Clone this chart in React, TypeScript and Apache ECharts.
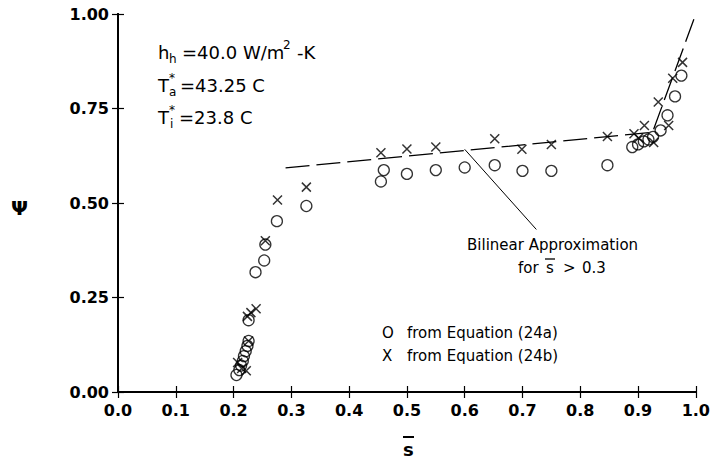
import React, { useEffect, useRef } from "react";
import * as echarts from "echarts";

// Circles: "from Equation (24a)"
const circleS = [0.205, 0.21, 0.213, 0.216, 0.218, 0.221, 0.224, 0.226, 0.226, 0.238, 0.253, 0.255, 0.275, 0.326, 0.455, 0.46, 0.5, 0.55, 0.6, 0.652, 0.7, 0.75, 0.847, 0.89, 0.9, 0.91, 0.918, 0.926, 0.939, 0.951, 0.964, 0.975];
const circleY = [0.045, 0.058, 0.07, 0.082, 0.095, 0.108, 0.122, 0.135, 0.19, 0.317, 0.348, 0.39, 0.452, 0.492, 0.557, 0.587, 0.577, 0.587, 0.594, 0.6, 0.585, 0.585, 0.6, 0.648, 0.655, 0.663, 0.668, 0.675, 0.692, 0.732, 0.782, 0.837];
// Crosses: "from Equation (24b)"
const crossS = [0.207, 0.214, 0.222, 0.226, 0.224, 0.23, 0.239, 0.255, 0.276, 0.326, 0.455, 0.5, 0.55, 0.652, 0.699, 0.75, 0.847, 0.893, 0.901, 0.911, 0.927, 0.935, 0.953, 0.96, 0.977];
const crossY = [0.078, 0.062, 0.056, 0.135, 0.2, 0.21, 0.22, 0.4, 0.508, 0.542, 0.633, 0.643, 0.648, 0.67, 0.642, 0.655, 0.676, 0.683, 0.672, 0.705, 0.66, 0.767, 0.705, 0.83, 0.872];
// Bilinear approximation (dashed)
const approxS = [0.29, 0.925, 1.0];
const approxY = [0.593, 0.687, 1.0];
// Leader line to annotation
const leaderS = [0.6, 0.724];
const leaderY = [0.642, 0.43];

const xTicks = { min: 0, max: 1, interval: 0.1 };
const yTicks = { min: 0, max: 1, interval: 0.25 };

const FONT = "DejaVu Sans";

const zip = (a: number[], b: number[]) => a.map((v, i) => [v, b[i]]);

export default function App() {
  const ref = useRef<HTMLDivElement>(null);
  useEffect(() => {
    if (!ref.current) return;
    const chart = echarts.init(ref.current, null, { renderer: "svg" });
    const axisLine = { show: true, lineStyle: { color: "#000", width: 2 } };
    const axisTick = { show: true, inside: true, length: 6, lineStyle: { color: "#000", width: 1.2 } };
    const txt = (text: string, x: number, y: number, size: number, extra: any = {}) => ({
      type: "text",
      x,
      y,
      style: { text, fontSize: size, fontFamily: FONT, fill: "#000", align: "left", verticalAlign: "middle", ...extra },
    });
    chart.setOption({
      animation: false,
      backgroundColor: "#fff",
      grid: { left: 118, right: 14, top: 14, bottom: 69 },
      xAxis: [
        {
          type: "value", ...xTicks, position: "bottom",
          axisLine, axisTick, splitLine: { show: false },
          axisLabel: { formatter: (v: number) => v.toFixed(1), fontSize: 16, fontWeight: "bold", fontFamily: FONT, color: "#000", margin: 10 },
        },
        {
          type: "value", ...xTicks, position: "top",
          axisLine, axisTick, splitLine: { show: false }, axisLabel: { show: false },
        },
      ],
      yAxis: [
        {
          type: "value", ...yTicks, position: "left",
          axisLine, axisTick, splitLine: { show: false },
          axisLabel: { formatter: (v: number) => v.toFixed(2), fontSize: 16, fontWeight: "bold", fontFamily: FONT, color: "#000", margin: 9 },
        },
        {
          type: "value", ...yTicks, position: "right",
          axisLine, axisTick, splitLine: { show: false }, axisLabel: { show: false },
        },
      ],
      series: [
        {
          type: "line", data: zip(approxS, approxY), symbol: "none",
          lineStyle: { color: "#000", width: 1.3, type: [24, 7] },
        },
        {
          type: "line", data: zip(leaderS, leaderY), symbol: "none",
          lineStyle: { color: "#000", width: 1 },
        },
        {
          type: "scatter", data: zip(circleS, circleY), symbol: "circle", symbolSize: 11,
          itemStyle: { color: "rgba(0,0,0,0)", borderColor: "#000", borderWidth: 1.3 },
        },
        {
          type: "scatter", data: zip(crossS, crossY), symbol: "path://M0 0L10 10M10 0L0 10", symbolSize: 9,
          itemStyle: { color: "rgba(0,0,0,0)", borderColor: "#000", borderWidth: 1.5 },
        },
      ],
      graphic: [
        // parameters block
        txt("h", 158, 52, 18),
        txt("h", 169, 59, 12),
        txt("=40.0 W/m", 182, 52, 18),
        txt("2", 283, 45, 12),
        txt("-K", 297, 52, 18),
        txt("T", 158, 85, 18),
        txt("*", 169, 78, 12),
        txt("a", 169, 92, 12),
        txt("=43.25 C", 180, 85, 18),
        txt("T", 158, 117, 18),
        txt("*", 169, 110, 12),
        txt("i", 170, 124, 12),
        txt("=23.8 C", 179, 117, 18),
        // annotation
        txt("Bilinear Approximation", 467, 245, 15),
        txt("for", 518, 268, 15),
        txt("s", 546, 268, 15),
        { type: "line", shape: { x1: 545, y1: 259, x2: 555, y2: 259 }, style: { stroke: "#000", lineWidth: 1.3 } },
        txt(">", 563, 268, 15),
        txt("0.3", 582, 268, 15),
        // legend
        txt("O", 382, 333, 15),
        txt("from Equation (24a)", 407, 333, 15),
        txt("X", 382, 356, 15),
        txt("from Equation (24b)", 407, 356, 15),
        // axis titles
        txt("Ψ", 11, 208, 20, { fontWeight: "bold" }),
        txt("s", 403, 449, 18, { fontWeight: "bold" }),
        { type: "line", shape: { x1: 403, y1: 437, x2: 414, y2: 437 }, style: { stroke: "#000", lineWidth: 2 } },
      ],
    });
    return () => chart.dispose();
  }, []);
  return <div ref={ref} style={{ position: "fixed", left: 0, top: 0, width: 713, height: 461 }} />;
}
